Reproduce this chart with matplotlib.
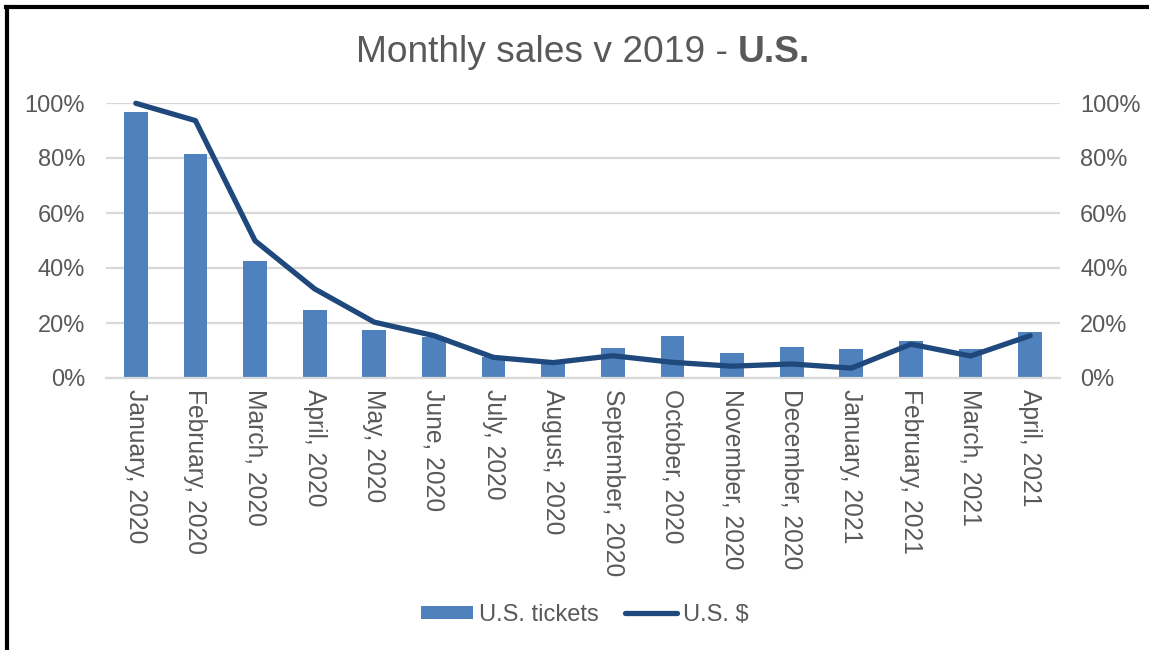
import matplotlib
matplotlib.use("Agg")
import matplotlib.pyplot as plt
from matplotlib.ticker import PercentFormatter, FixedLocator
from matplotlib.lines import Line2D
from matplotlib.patches import Patch

plt.rcParams['font.family'] = ['Liberation Sans', 'DejaVu Sans']

categories = ["January, 2020", "February, 2020", "March, 2020", "April, 2020",
              "May, 2020", "June, 2020", "July, 2020", "August, 2020",
              "September, 2020", "October, 2020", "November, 2020", "December, 2020",
              "January, 2021", "February, 2021", "March, 2021", "April, 2021"]
tickets_pct = [96.7, 81.3, 42.5, 24.8, 17.4, 14.8, 7.6, 5.2,
               10.9, 15.1, 9.2, 11.4, 10.4, 13.6, 10.7, 16.7]
dollars_pct = [99.9, 93.6, 49.9, 32.4, 20.3, 15.4, 7.5, 5.6,
               8.1, 5.7, 4.3, 5.1, 3.6, 12.3, 8.0, 15.4]
yticks_pct = [0, 20, 40, 60, 80, 100]
series_names = ["U.S. tickets", "U.S. $"]
title_normal = "Monthly sales v 2019 - "
title_bold = "U.S."

BAR = "#4F81BD"
LINE = "#1F497D"
GRID = "#D9D9D9"
TXT = "#595959"

fig = plt.figure(figsize=(11.49, 6.5), dpi=100)
ax = fig.add_axes([106/1149, 1-378/650, (1060-106)/1149, (378-103)/650])

x = list(range(len(categories)))
ax.bar(x, tickets_pct, width=0.4, color=BAR, zorder=2)
ax.plot(x, dollars_pct, color=LINE, lw=3.8, solid_capstyle='round',
        solid_joinstyle='round', zorder=3, clip_on=False)

ax.set_xlim(-0.5, len(categories) - 0.5)
ax.set_ylim(0, 100)
ax.yaxis.set_major_locator(FixedLocator(yticks_pct))
ax.yaxis.set_major_formatter(PercentFormatter(decimals=0))
ax.set_xticks(x)
ax.set_xticklabels(categories, rotation=-90, ha='center', va='top')
ax.tick_params(axis='x', length=0, pad=8, labelsize=17.7, labelcolor=TXT)
ax.tick_params(axis='y', length=0, pad=15, labelsize=17, labelcolor=TXT)
ax.grid(axis='y', color=GRID, lw=1.6, zorder=0)
for s in ['top', 'left', 'right']:
    ax.spines[s].set_visible(False)
ax.spines['bottom'].set_color(GRID)
ax.spines['bottom'].set_linewidth(1.6)

ax2 = ax.twinx()
ax2.set_ylim(0, 100)
ax2.yaxis.set_major_locator(FixedLocator(yticks_pct))
ax2.yaxis.set_major_formatter(PercentFormatter(decimals=0))
ax2.tick_params(axis='y', length=0, pad=14.5, labelsize=17, labelcolor=TXT)
for s in ax2.spines.values():
    s.set_visible(False)

# Title with bold part
fig.canvas.draw()
r = fig.canvas.get_renderer()
t1 = fig.text(0, 0, title_normal, fontsize=26.7, color=TXT)
t2 = fig.text(0, 0, title_bold, fontsize=26.7, color=TXT, fontweight='bold')
w1 = t1.get_window_extent(r).width
w2 = t2.get_window_extent(r).width
start = 583 - (w1 + w2) / 2
yb = 1 - 62/650
t1.set_position((start/1149, yb)); t1.set_va('baseline')
t2.set_position(((start + w1)/1149, yb)); t2.set_va('baseline')

handles = [Patch(facecolor=BAR, edgecolor='none'),
           Line2D([0], [0], color=LINE, lw=3.8, solid_capstyle='round')]
fig.legend(handles, series_names, loc='center', bbox_to_anchor=(585/1149, 1-615/650),
           ncol=2, frameon=False, fontsize=17, labelcolor=TXT,
           handlelength=2.2, handleheight=0.5, handletextpad=0.25, columnspacing=1.1)

# Border (left and top edges)
fig.add_artist(Line2D([7/1149, 7/1149], [0, 1-6.5/650], color='black', lw=3, transform=fig.transFigure))
fig.add_artist(Line2D([5.5/1149, 1], [1-6.5/650, 1-6.5/650], color='black', lw=3, transform=fig.transFigure))

fig.savefig("out.png", dpi=100)
